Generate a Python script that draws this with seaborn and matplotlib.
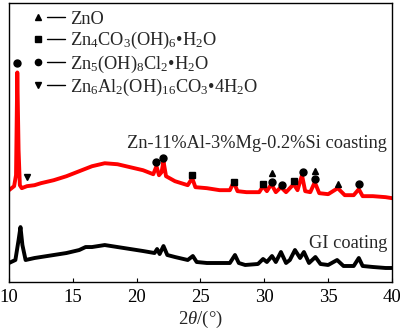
import matplotlib
matplotlib.use("Agg")
import matplotlib.pyplot as plt
import seaborn as sns
import pandas as pd
from matplotlib.lines import Line2D
from matplotlib.legend_handler import HandlerTuple

# ---- data (2theta, relative intensity) ----
red_2theta = [10.0, 10.4, 10.55, 10.65, 10.75, 10.85, 11.0, 11.4, 12.0, 12.5, 13.5, 14.5,
              15.5, 16.5, 17.5, 18.5, 19.5, 20.5, 21.3, 21.55, 21.75, 21.95, 22.1, 22.3,
              23.0, 24.0, 24.35, 24.6, 25.5, 26.5, 27.3, 27.6, 27.9, 28.6, 29.6, 29.9,
              30.2, 30.55, 30.9, 31.3, 31.7, 32.3, 32.6, 32.95, 33.2, 33.6, 33.95, 34.3,
              35.0, 35.75, 36.3, 37.0, 37.4, 37.7, 38.5, 39.5, 40.0]
red_int = [92, 96, 107, 210, 132, 97, 94, 96, 97, 99, 102, 106,
           111, 116, 119, 118, 115, 112, 108, 116, 107, 110, 121, 106,
           101, 97, 104, 95, 94, 92, 92, 100, 91, 90, 90, 96,
           91, 98, 90, 95, 90, 98, 92, 107, 91, 90, 100, 89,
           88, 94, 87, 87, 93, 86, 86, 85, 84]

black_2theta = [10.0, 10.5, 10.75, 10.9, 11.05, 11.3, 12.0, 12.5, 13.5, 14.5, 15.5, 16.0,
                16.5, 17.5, 18.5, 19.5, 20.5, 21.4, 21.6, 21.8, 22.1, 22.4, 23.0, 24.0,
                24.4, 24.7, 25.5, 26.5, 27.3, 27.7, 28.0, 28.5, 29.5, 29.9, 30.2, 30.6,
                30.9, 31.3, 31.7, 32.0, 32.4, 32.8, 33.1, 33.5, 34.0, 34.4, 35.0, 35.7,
                36.2, 37.0, 37.4, 37.7, 38.5, 39.5, 40.0]
black_int = [19, 22, 42, 55, 37, 22, 24, 25, 27, 29, 32, 35,
             35, 37, 35, 33, 31, 29, 33, 28, 36, 27, 25, 22,
             26, 20, 19, 19, 19, 27, 19, 17, 18, 23, 20, 26,
             20, 30, 19, 22, 32, 24, 30, 19, 25, 18, 17, 22,
             16, 16, 24, 16, 15, 14, 14]

# phase markers (2theta, height)
zno_x = [30.57, 33.96, 35.79]
zno_y = [109, 111, 98]
carb_x = [24.35, 27.6, 29.9, 32.3]
carb_y = [107, 100, 98, 101]
chl_x = [10.65, 21.5, 22.06, 30.57, 31.35, 33.0, 33.96, 37.4]
chl_y = [219, 120, 124, 100, 97, 110, 103, 98]
ldh_x = [11.38]
ldh_y = [105]

phase_labels = ["ZnO",
                r"Zn$_\mathregular{4}$CO$_\mathregular{3}$(OH)$_\mathregular{6}$•H$_\mathregular{2}$O",
                r"Zn$_\mathregular{5}$(OH)$_\mathregular{8}$Cl$_\mathregular{2}$•H$_\mathregular{2}$O",
                r"Zn$_\mathregular{6}$Al$_\mathregular{2}$(OH)$_\mathregular{16}$CO$_\mathregular{3}$•4H$_\mathregular{2}$O"]
red_label = "Zn-11%Al-3%Mg-0.2%Si coasting"
black_label = "GI coating"

sns.set_theme(style="white")
plt.rcParams['font.family'] = ['Liberation Serif', 'DejaVu Serif']
plt.rcParams['mathtext.fontset'] = 'custom'
plt.rcParams['mathtext.rm'] = 'Liberation Serif'
plt.rcParams['mathtext.it'] = 'Liberation Serif:italic'
plt.rcParams['mathtext.bf'] = 'Liberation Serif:bold'

fig = plt.figure(figsize=(4.0, 3.29), dpi=100)
ax = fig.add_axes([0.0225, 0.143, 0.9575, 0.849])

red_df = pd.DataFrame({"t": red_2theta, "i": red_int})
blk_df = pd.DataFrame({"t": black_2theta, "i": black_int})
sns.lineplot(data=red_df, x="t", y="i", color="#ff0000", lw=2.8, ax=ax, sort=False)
sns.lineplot(data=blk_df, x="t", y="i", color="#000000", lw=2.8, ax=ax, sort=False)

ms = 5
ax.plot(zno_x, zno_y, ls="none", marker="^", color="black", ms=ms)
ax.plot(carb_x, carb_y, ls="none", marker="s", color="black", ms=ms - 0.6)
ax.plot(chl_x, chl_y, ls="none", marker="o", color="black", ms=ms)
ax.plot(ldh_x, ldh_y, ls="none", marker="v", color="black", ms=ms)

fs = 13.2
ax.text(39.6, 139, red_label, fontsize=fs, ha="right", va="center")
ax.text(39.6, 39, black_label, fontsize=fs, ha="right", va="center")

ax.set_xlim(10, 40)
ax.set_ylim(0, 280)
ax.set_xticks([10, 15, 20, 25, 30, 35, 40])
ax.set_yticks([])
ax.tick_params(axis="x", direction="in", length=3, width=0.8, labelsize=13.5, pad=5,
               bottom=True, top=False, colors="black")
ax.set_xlabel(r"2$\mathit{\theta}$/(°)", fontsize=13.5, labelpad=2)
ax.set_ylabel("")
for s in ax.spines.values():
    s.set_visible(True)
    s.set_color("black")
    s.set_linewidth(1.0)

handles = []
for mk, msz in [("^", 4), ("s", 4), ("o", 4.5), ("v", 4)]:
    m = Line2D([], [], ls="none", marker=mk, color="black", ms=msz)
    l = Line2D([], [], ls="-", color="black", lw=1.0)
    handles.append((m, l))
ax.legend(handles, phase_labels, handler_map={tuple: HandlerTuple(ndivide=None, pad=0.0)},
          loc="upper left", bbox_to_anchor=(0.03, 1.0), frameon=False, fontsize=fs,
          handlelength=2.0, handletextpad=0.25, labelspacing=0.12, borderaxespad=0.2,
          borderpad=0.25)

fig.savefig("out.png", dpi=100)
